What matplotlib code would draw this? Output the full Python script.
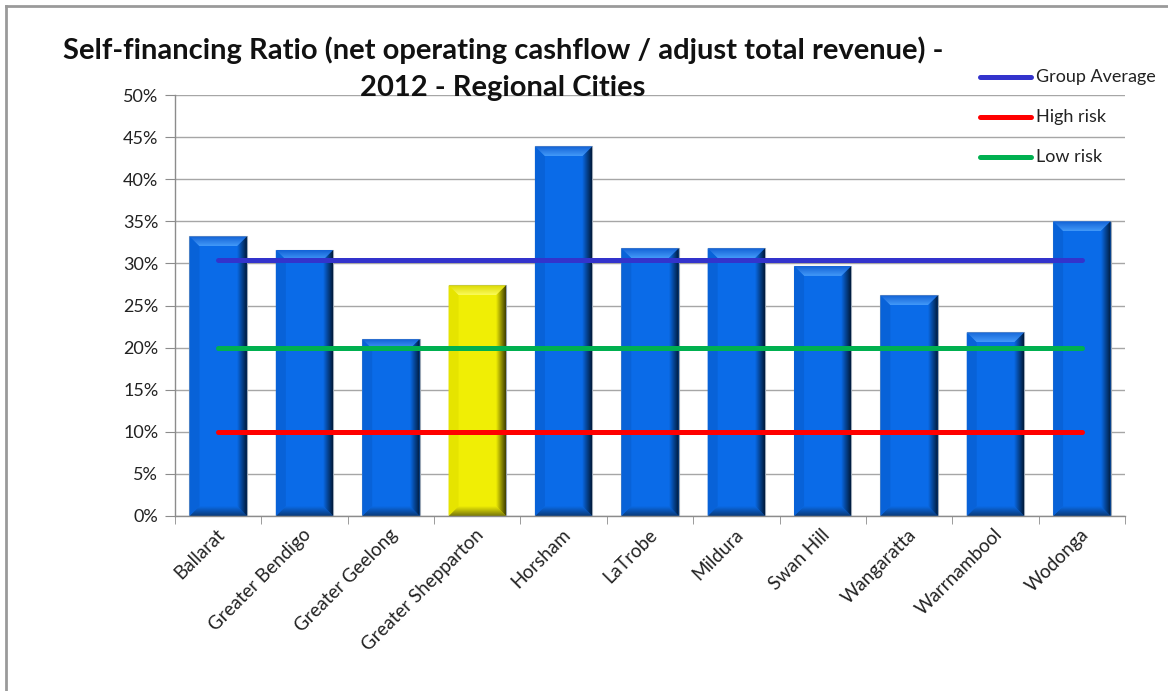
import numpy as np
import matplotlib
matplotlib.use("Agg")
import matplotlib.pyplot as plt
from matplotlib.patches import Polygon, Rectangle
from matplotlib.lines import Line2D
from matplotlib.colors import LinearSegmentedColormap
import matplotlib.transforms as mtransforms

plt.rcParams['font.family'] = ['Lato', 'DejaVu Sans']

# ---- data -------------------------------------------------------------
councils = ["Ballarat", "Greater Bendigo", "Greater Geelong", "Greater Shepparton",
            "Horsham", "LaTrobe", "Mildura", "Swan Hill", "Wangaratta",
            "Warrnambool", "Wodonga"]
ratios = [0.332, 0.316, 0.210, 0.274, 0.439, 0.318, 0.318, 0.297, 0.262, 0.218, 0.350]
highlight = "Greater Shepparton"

group_average = 0.304
high_risk = 0.10
low_risk = 0.20

title_lines = ["Self-financing Ratio (net operating cashflow / adjust total revenue) -",
               "2012 - Regional Cities"]
yticks = [0.0, 0.05, 0.10, 0.15, 0.20, 0.25, 0.30, 0.35, 0.40, 0.45, 0.50]

# ---- figure -----------------------------------------------------------
W, H = 1168, 691
fig = plt.figure(figsize=(W / 100, H / 100), dpi=100)
ax = fig.add_axes([175 / W, 1 - 516 / H, 950 / W, 421 / H])

x = np.arange(len(councils))
ax.set_xlim(-0.5, len(councils) - 0.5)
ax.set_ylim(0, 0.5)


def gradient_fill(ax, poly_xy, c_start, c_end, direction, zorder):
    """Fill a polygon with a linear gradient (direction 'x' or 'y')."""
    poly = Polygon(poly_xy, closed=True, facecolor='none', edgecolor='none')
    ax.add_patch(poly)
    xs = [p[0] for p in poly_xy]
    ys = [p[1] for p in poly_xy]
    cmap = LinearSegmentedColormap.from_list("g", [c_start, c_end])
    g = np.linspace(0, 1, 64)
    arr = g[np.newaxis, :] if direction == 'x' else g[:, np.newaxis]
    im = ax.imshow(arr, cmap=cmap, extent=(min(xs), max(xs), min(ys), max(ys)),
                   origin='lower', aspect='auto', zorder=zorder, interpolation='bilinear')
    im.set_clip_path(poly)
    return im


def bevel_bar(ax, xc, width, top, face, top_in, top_out, side_dark, bottom_dark, left_col,
              bx, by, zorder=2):
    x0, x1 = xc - width / 2, xc + width / 2
    y0, y1 = 0.0, top
    ax.add_patch(Rectangle((x0, y0), width, top, facecolor=face, edgecolor='#9aa6b5',
                           linewidth=0.8, zorder=zorder))
    # top bevel
    gradient_fill(ax, [(x0, y1), (x1, y1), (x1 - bx, y1 - by), (x0 + bx, y1 - by)],
                  top_in, top_out, 'y', zorder + 0.1)
    # bottom bevel
    gradient_fill(ax, [(x0, y0), (x1, y0), (x1 - bx, y0 + by), (x0 + bx, y0 + by)],
                  bottom_dark, face, 'y', zorder + 0.1)
    # right bevel
    gradient_fill(ax, [(x1, y1), (x1, y0), (x1 - bx, y0 + by), (x1 - bx, y1 - by)],
                  face, side_dark, 'x', zorder + 0.2)
    # left bevel
    ax.add_patch(Polygon([(x0, y0), (x0, y1), (x0 + bx, y1 - by), (x0 + bx, y0 + by)],
                         closed=True, facecolor=left_col, edgecolor='none', zorder=zorder + 0.2))


# bevel size in data units from pixel size
px_x = 950 / len(councils)
px_y = 421 / 0.5
bx = 10 / px_x
by = 10 / px_y

blue = dict(face='#0a6be8', top_in='#4399f8', top_out='#1262d6', side_dark='#001a3a',
            bottom_dark='#0a3a78', left_col='#0862d8')
yellow = dict(face='#f0ee05', top_in='#fbfb5a', top_out='#dcda00', side_dark='#3e3d00',
              bottom_dark='#77760a', left_col='#e6e400')

for xi, name, val in zip(x, councils, ratios):
    style = yellow if name == highlight else blue
    bevel_bar(ax, xi, 0.665, val, bx=bx, by=by, **style)

# reference lines
series = [("Group Average", group_average, '#3333cc'),
          ("High risk", high_risk, '#ff0000'),
          ("Low risk", low_risk, '#00b050')]
for label, level, color in series:
    ax.plot([x[0], x[-1]], [level, level], color=color, linewidth=3.6,
            solid_capstyle='round', zorder=5, label=label)

ax.set_xlim(-0.5, len(councils) - 0.5)
ax.set_ylim(0, 0.5)

# axes styling
ax.set_yticks(yticks)
ax.set_yticklabels([f"{int(round(t * 100))}%" for t in yticks])
ax.yaxis.grid(True, color='#a6a6a6', linewidth=1.0)
ax.set_axisbelow(True)
for s in ('top', 'right'):
    ax.spines[s].set_visible(False)
for s in ('left', 'bottom'):
    ax.spines[s].set_color('#8c8c8c')
    ax.spines[s].set_linewidth(1.0)
ax.tick_params(axis='y', direction='out', length=7, color='#8c8c8c', labelsize=13,
               labelcolor='#222222', pad=5)

ax.set_xticks(x)
ax.set_xticklabels(councils, rotation=45, ha='right', va='top', rotation_mode='anchor',
                   fontsize=13.5, color='#222222')
ax.tick_params(axis='x', which='major', length=0, pad=7)
ax.set_xticks(np.arange(-0.5, len(councils)), minor=True)
ax.tick_params(axis='x', which='minor', direction='out', length=6, color='#8c8c8c')
shift = mtransforms.ScaledTranslation(-2 / 100, 0, fig.dpi_scale_trans)
for lbl in ax.get_xticklabels():
    lbl.set_transform(lbl.get_transform() + shift)

# title
for line, ypx in zip(title_lines, (50, 88)):
    fig.text(503 / W, 1 - ypx / H, line, ha='center', va='center', fontsize=21,
             fontweight='bold', color='#111111')

# legend drawn as lines with labels on the right
for i, (label, level, color) in enumerate(series):
    yy = 1 - (77 + 40 * i) / H
    fig.add_artist(Line2D([980 / W, 1031 / W], [yy, yy], color=color, linewidth=3.6,
                          solid_capstyle='round'))
    fig.text(1036 / W, yy, label, ha='left', va='center', fontsize=13, color='#222222')

# chart frame edges
fig.add_artist(Line2D([6 / W, 6 / W], [0, 1 - 6 / H], color='#9a9a9a', linewidth=2))
fig.add_artist(Line2D([6 / W, 1], [1 - 6 / H, 1 - 6 / H], color='#9a9a9a', linewidth=2))

fig.savefig("out.png", dpi=100, facecolor='white')
